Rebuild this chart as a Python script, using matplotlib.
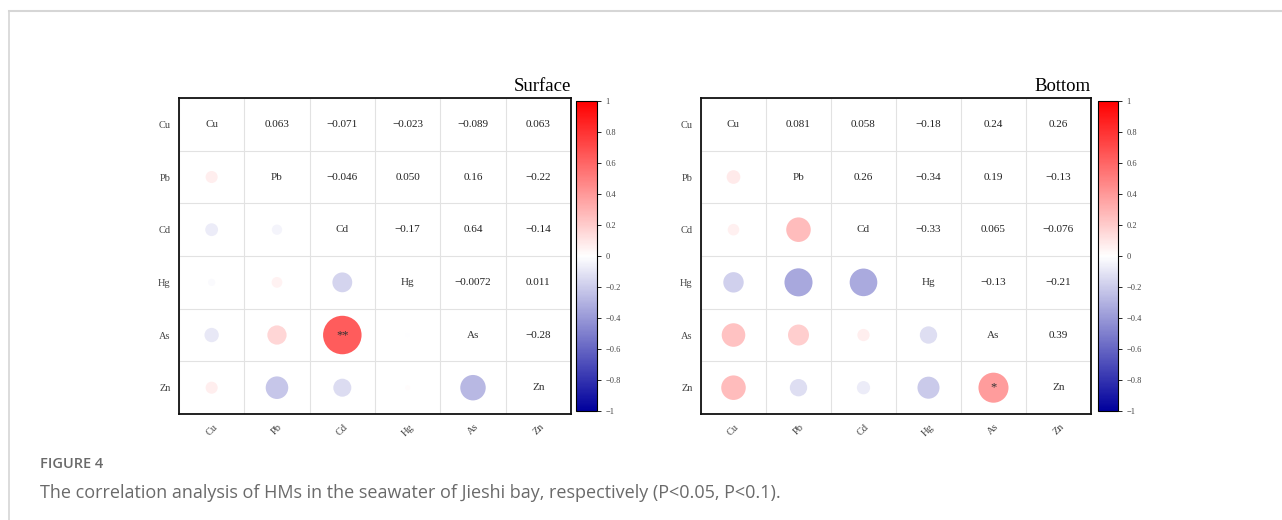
import matplotlib
matplotlib.use("Agg")
import matplotlib.pyplot as plt
import numpy as np
from matplotlib.colors import LinearSegmentedColormap
from matplotlib.lines import Line2D

# 元素名
elements = ['Cu', 'Pb', 'Cd', 'Hg', 'As', 'Zn']

# 上三角相关系数 (按行)
surface_upper = [
    [0.063, -0.071, -0.023, -0.089, 0.063],
    [-0.046, 0.050, 0.16, -0.22],
    [-0.17, 0.64, -0.14],
    [-0.0072, 0.011],
    [-0.28],
]
bottom_upper = [
    [0.081, 0.058, -0.18, 0.24, 0.26],
    [0.26, -0.34, 0.19, -0.13],
    [-0.33, 0.065, -0.076],
    [-0.13, -0.21],
    [0.39],
]
# 显著性标记 (行, 列, 标记)
surface_stars = [('As', 'Cd', '**')]
bottom_stars = [('Zn', 'As', '*')]

cbar_ticks = [-1, -0.8, -0.6, -0.4, -0.2, 0, 0.2, 0.4, 0.6, 0.8, 1]

cmap = LinearSegmentedColormap.from_list('rw', ['#00009c', '#ffffff', '#ff0000'])
serif = ['Liberation Serif', 'DejaVu Serif']


def full_matrix(upper):
    n = len(elements)
    m = np.ones((n, n))
    for i, row in enumerate(upper):
        for k, v in enumerate(row):
            j = i + 1 + k
            m[i, j] = v
            m[j, i] = v
    return m


def fmt(v):
    return f"{v:#.2g}".replace('-', '\u2212')


def corr_panel(ax, cax, upper, stars, title):
    m = full_matrix(upper)
    n = len(elements)
    ii, jj = np.tril_indices(n, -1)
    vals = m[ii, jj]
    sc = ax.scatter(jj, ii, s=1200 * np.abs(vals), c=vals, cmap=cmap,
                    vmin=-1, vmax=1, linewidths=0, zorder=3)
    for i in range(n):
        for j in range(n):
            if i == j:
                ax.text(j, i, elements[i], ha='center', va='center',
                        fontsize=8, family=serif, color='#333333')
            elif j > i:
                ax.text(j, i, fmt(m[i, j]), ha='center', va='center',
                        fontsize=8, family=serif, color='#222222')
    for r, c, s in stars:
        ax.text(elements.index(c), elements.index(r), s, ha='center', va='center',
                fontsize=9, family=serif, color='#333333', zorder=4)

    ax.set_xlim(-0.5, n - 0.5)
    ax.set_ylim(n - 0.5, -0.5)
    ax.set_xticks(range(n))
    ax.set_yticks(range(n))
    ax.set_xticklabels(elements, rotation=45, ha='center', family=serif, fontsize=7.5, color='#444444')
    ax.set_yticklabels(elements, family=serif, fontsize=7.5, color='#444444')
    ax.tick_params(length=0, pad=6)
    ax.set_xticks(np.arange(-0.5, n, 1), minor=True)
    ax.set_yticks(np.arange(-0.5, n, 1), minor=True)
    ax.tick_params(which='minor', length=0)
    ax.grid(which='minor', color='#e2e2e2', linewidth=0.8)
    ax.grid(which='major', visible=False)
    for sp in ax.spines.values():
        sp.set_linewidth(1.3)
        sp.set_color('#111111')
    ax.set_title(title, loc='right', family=serif, fontsize=13.5, pad=5)

    cb = plt.colorbar(sc, cax=cax, ticks=cbar_ticks)
    cb.ax.set_yticklabels([f"{t:g}".replace('-', '\u2212') for t in cbar_ticks],
                          family=serif, fontsize=6, color='#444444')
    cb.ax.tick_params(length=3, width=0.6, pad=3)
    cb.outline.set_linewidth(0.8)


fig = plt.figure(figsize=(12.82, 5.20), dpi=100)

ax1 = fig.add_axes([0.1396, 0.2038, 0.3058, 0.6077])
cax1 = fig.add_axes([0.4493, 0.2096, 0.0164, 0.5962])
ax2 = fig.add_axes([0.5468, 0.2038, 0.3042, 0.6077])
cax2 = fig.add_axes([0.8565, 0.2096, 0.0156, 0.5962])

corr_panel(ax1, cax1, surface_upper, surface_stars, 'Surface')
corr_panel(ax2, cax2, bottom_upper, bottom_stars, 'Bottom')

# 外框线
fig.add_artist(Line2D([9 / 1282, 1], [1 - 11 / 520, 1 - 11 / 520], color='#d6d6d6', lw=1.5))
fig.add_artist(Line2D([9 / 1282, 9 / 1282], [0, 1 - 11 / 520], color='#d6d6d6', lw=1.2))

# 图注
fig.text(40 / 1282, 1 - 468 / 520, 'FIGURE 4', family=['Open Sans', 'DejaVu Sans'],
         fontsize=10.5, fontweight='semibold', color='#6a6a6a', va='baseline')
fig.text(40 / 1282, 1 - 498 / 520,
         'The correlation analysis of HMs in the seawater of Jieshi bay, respectively (P<0.05, P<0.1).',
         family=['Open Sans', 'DejaVu Sans'], fontsize=13, color='#6a6a6a', va='baseline')

plt.savefig('out.png', dpi=100)
